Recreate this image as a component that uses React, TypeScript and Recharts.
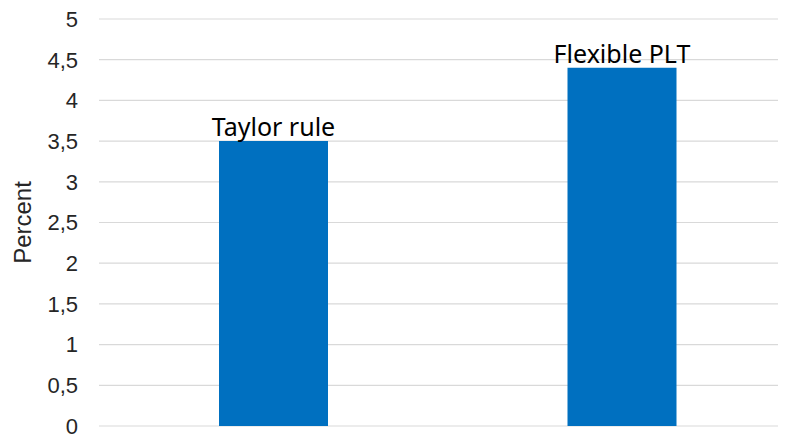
import { BarChart, Bar, XAxis, YAxis, CartesianGrid, LabelList } from "recharts";

const CATEGORIES = ["Taylor rule", "Flexible PLT"];
const VALUES = [3.5, 4.4];
const Y_TICKS = [0, 0.5, 1, 1.5, 2, 2.5, 3, 3.5, 4, 4.5, 5];

const data = CATEGORIES.map((name, i) => ({ name, value: VALUES[i] }));

const fmt = (v: number) => String(v).replace(".", ",");

export default function App() {
  return (
    <div style={{ width: 786, height: 435, overflow: "hidden", margin: "-8px 0 0 -8px", background: "#fff" }}>
      <BarChart
        width={796}
        height={435}
        data={data}
        margin={{ top: 19, right: 0, bottom: 9, left: 0 }}
        barSize={109}
      >
        <CartesianGrid vertical={false} stroke="#d9d9d9" strokeWidth={1.2} />
        <XAxis dataKey="name" hide />
        <YAxis
          width={99}
          domain={[0, 5]}
          ticks={Y_TICKS}
          interval={0}
          tickFormatter={fmt}
          axisLine={false}
          tickLine={false}
          tickSize={0}
          tickMargin={21}
          tick={{ fill: "#262626", fontSize: 22, fontFamily: "Liberation Sans, Arial, sans-serif" }}
          label={{
            value: "Percent",
            angle: -90,
            position: "insideLeft",
            offset: 22,
            style: { textAnchor: "middle", fill: "#262626", fontSize: 24, fontFamily: "Liberation Sans, Arial, sans-serif" },
          }}
        />
        <Bar dataKey="value" fill="#0070C0" isAnimationActive={false}>
          <LabelList
            dataKey="name"
            position="top"
            offset={5}
            style={{ fill: "#000", fontSize: 25, fontFamily: "Noto Sans, sans-serif" }}
          />
        </Bar>
      </BarChart>
    </div>
  );
}
